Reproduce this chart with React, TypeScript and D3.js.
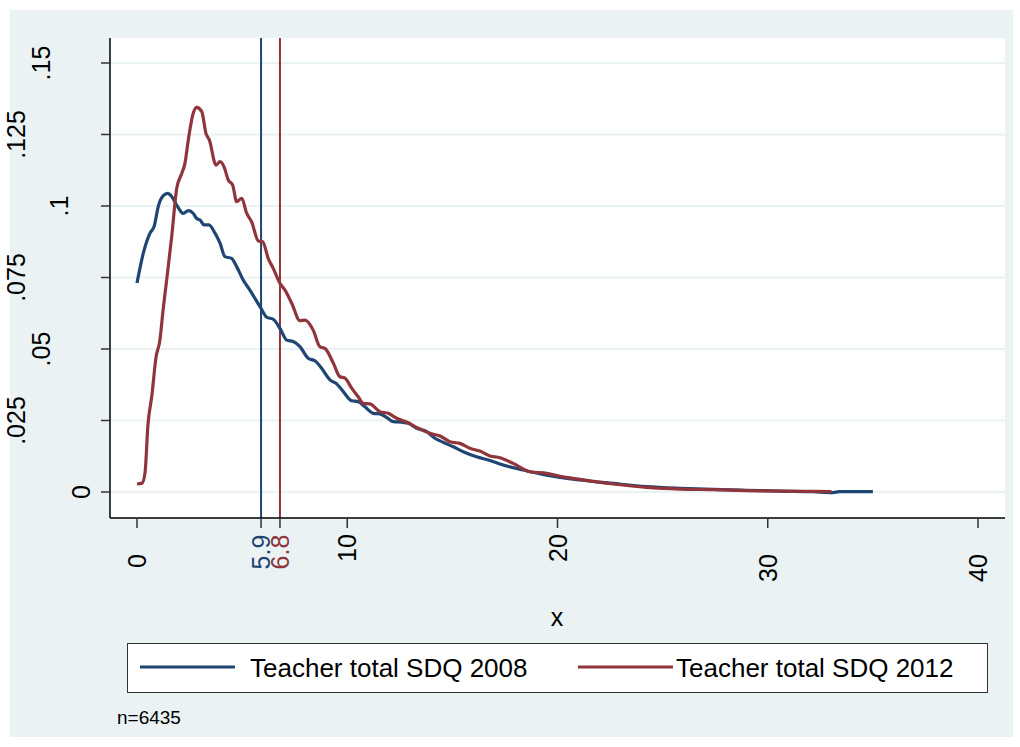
import React from "react";
import * as d3 from "d3";

// Kernel density estimates of teacher-rated total SDQ scores
const xs2008 = [0, 0.3, 0.62, 0.82, 1.01, 1.25, 1.46, 1.65, 1.89, 2.2, 2.44, 2.68, 2.84, 3.0, 3.19, 3.42, 3.71, 3.95, 4.18, 4.5, 4.74, 5.05, 5.37, 5.85, 6.17, 6.48, 6.8, 7.12, 7.43, 7.75, 8.15, 8.46, 8.78, 9.18, 9.5, 9.81, 10.21, 10.52, 10.84, 11.24, 11.55, 11.87, 12.19, 12.59, 12.9, 13.3, 13.78, 14.17, 14.56, 15.04, 15.52, 16.15, 16.79, 17.26, 18.37, 19.48, 21.07, 22.65, 24.24, 25.82, 27.4, 28.99, 30.58, 32.16, 33.1, 33.4, 35.0];
const dens2008 = [0.0731, 0.0835, 0.0905, 0.093, 0.0998, 0.1036, 0.1044, 0.1033, 0.1003, 0.0974, 0.0984, 0.0974, 0.0956, 0.0951, 0.0934, 0.0934, 0.0905, 0.087, 0.0823, 0.0817, 0.0788, 0.0741, 0.0706, 0.0648, 0.0611, 0.0604, 0.0572, 0.0531, 0.0526, 0.0508, 0.0467, 0.0459, 0.0433, 0.0392, 0.0378, 0.0351, 0.0319, 0.0316, 0.0298, 0.0275, 0.0273, 0.0261, 0.0246, 0.0244, 0.024, 0.0223, 0.0211, 0.0188, 0.0174, 0.0158, 0.0141, 0.0123, 0.011, 0.0098, 0.0077, 0.0059, 0.0042, 0.003, 0.0019, 0.0013, 0.0009, 0.0006, 0.0003, 0.0001, -0.0002, 0.0001, 0.0001];

const xs2012 = [0, 0.24, 0.38, 0.52, 0.71, 0.9, 1.09, 1.24, 1.41, 1.65, 1.89, 2.13, 2.28, 2.44, 2.65, 2.84, 3.08, 3.28, 3.44, 3.76, 3.95, 4.14, 4.34, 4.55, 4.74, 4.98, 5.22, 5.45, 5.77, 5.98, 6.24, 6.48, 6.8, 7.04, 7.36, 7.75, 7.99, 8.38, 8.7, 8.94, 9.34, 9.65, 9.89, 10.21, 10.52, 10.76, 11.08, 11.55, 11.95, 12.35, 12.9, 13.3, 13.93, 14.41, 14.88, 15.36, 15.83, 16.31, 16.79, 17.26, 17.89, 18.69, 19.48, 20.27, 21.07, 22.65, 24.24, 25.82, 27.4, 28.99, 30.58, 32.16, 33.03];
const dens2012 = [0.0028, 0.0031, 0.0066, 0.0234, 0.0339, 0.0469, 0.0531, 0.0636, 0.0741, 0.0893, 0.1062, 0.1114, 0.1149, 0.1231, 0.1318, 0.1345, 0.133, 0.1254, 0.1231, 0.1143, 0.1155, 0.1137, 0.1091, 0.1073, 0.1015, 0.1027, 0.0974, 0.0945, 0.0878, 0.0875, 0.0817, 0.0782, 0.073, 0.0706, 0.066, 0.0599, 0.0601, 0.0566, 0.0508, 0.0502, 0.045, 0.0403, 0.0398, 0.0363, 0.0333, 0.031, 0.0308, 0.0281, 0.0275, 0.0258, 0.0242, 0.0226, 0.0205, 0.0196, 0.0176, 0.017, 0.0153, 0.0143, 0.0126, 0.012, 0.01, 0.0071, 0.0065, 0.0053, 0.0044, 0.0028, 0.0016, 0.001, 0.0008, 0.0005, 0.0003, 0.0002, 0.0001];

const seriesNames = ["Teacher total SDQ 2008", "Teacher total SDQ 2012"];
const seriesMeans = [5.9, 6.8];
const xTicks = [0, 10, 20, 30, 40];
const yTicks = [0, 0.025, 0.05, 0.075, 0.1, 0.125, 0.15];
const yTickLabels = ["0", ".025", ".05", ".075", ".1", ".125", ".15"];
const sampleNote = "n=6435";

const NAVY = "#1f4673";
const MAROON = "#90353b";
const BG = "#eaf2f3";
const FONT = "'Liberation Sans', Arial, Helvetica, sans-serif";

// Plot region frame
const PL = 110, PR = 1005, PT = 38, PB = 518;

// Vertical label centres for the rotated x tick labels
const xLabelCenter: Record<string, number> = { "0": 561, "10": 548, "20": 548, "30": 568, "40": 568 };
const meanLabelCenter = 552;
// Horizontal label centres for the rotated y tick labels, by label length
const yLabelCenterByLen = [0, 81, 59, 41, 16];

export default function App() {
  const x = d3.scaleLinear().domain([0, 40]).range([137, 978]);
  const y = d3.scaleLinear().domain([0, 0.15]).range([492, 63]);

  const line = d3
    .line<[number, number]>()
    .x((d) => x(d[0]))
    .y((d) => y(d[1]))
    .curve(d3.curveMonotoneX);

  const pts2008 = xs2008.map((v, i) => [v, dens2008[i]] as [number, number]);
  const pts2012 = xs2012.map((v, i) => [v, dens2012[i]] as [number, number]);
  const colors = [NAVY, MAROON];

  const tickFont = 25;
  const legendFont = 26;

  return (
    <svg width={1020} height={747} style={{ display: "block", position: "absolute", left: 0, top: 0 }} fontFamily={FONT}>
      <rect x={0} y={0} width={1020} height={747} fill="#ffffff" />
      <rect x={10} y={10} width={1003} height={727} fill={BG} />
      <rect x={PL} y={PT} width={PR - PL} height={PB - PT} fill="#ffffff" />

      {/* gridlines */}
      {yTicks.map((t) => (
        <line key={"g" + t} x1={PL} x2={PR} y1={y(t)} y2={y(t)} stroke={BG} strokeWidth={2} />
      ))}

      {/* mean reference lines */}
      {seriesMeans.map((m, i) => (
        <line key={"m" + i} x1={x(m)} x2={x(m)} y1={PT} y2={PB} stroke={colors[i]} strokeWidth={2} />
      ))}

      {/* density curves */}
      <path d={line(pts2008) || ""} fill="none" stroke={NAVY} strokeWidth={3.2} strokeLinejoin="round" />
      <path d={line(pts2012) || ""} fill="none" stroke={MAROON} strokeWidth={3.2} strokeLinejoin="round" />

      {/* axes */}
      <line x1={PL} x2={PL} y1={PT} y2={PB} stroke="#000" strokeWidth={1.5} />
      <line x1={PL} x2={PR} y1={PB} y2={PB} stroke="#000" strokeWidth={1.5} />

      {yTicks.map((t, i) => {
        const lab = yTickLabels[i];
        const cx = yLabelCenterByLen[lab.length];
        return (
          <g key={"yt" + t}>
            <line x1={PL - 9} x2={PL} y1={y(t)} y2={y(t)} stroke="#333" strokeWidth={1.5} />
            <text
              transform={`translate(${cx},${y(t)}) rotate(-90)`}
              textAnchor="middle"
              dominantBaseline="central"
              fontSize={tickFont}
              fill="#000"
            >
              {lab}
            </text>
          </g>
        );
      })}

      {xTicks.map((t) => {
        const lab = String(t);
        return (
          <g key={"xt" + t}>
            <line x1={x(t)} x2={x(t)} y1={PB} y2={PB + 10} stroke="#333" strokeWidth={1.5} />
            <text
              transform={`translate(${x(t)},${xLabelCenter[lab]}) rotate(-90)`}
              textAnchor="middle"
              dominantBaseline="central"
              fontSize={tickFont}
              fill="#000"
            >
              {lab}
            </text>
          </g>
        );
      })}

      {seriesMeans.map((m, i) => (
        <g key={"mt" + i}>
          <line x1={x(m)} x2={x(m)} y1={PB} y2={PB + 10} stroke="#333" strokeWidth={1.5} />
          <text
            transform={`translate(${x(m)},${meanLabelCenter}) rotate(-90)`}
            textAnchor="middle"
            dominantBaseline="central"
            fontSize={tickFont}
            fill={colors[i]}
          >
            {m.toFixed(1)}
          </text>
        </g>
      ))}

      {/* axis title */}
      <text x={557} y={617} textAnchor="middle" dominantBaseline="central" fontSize={tickFont} fill="#000">
        x
      </text>

      {/* legend */}
      <rect x={127.5} y={643.5} width={860} height={49} fill="#ffffff" stroke="#333" strokeWidth={1} />
      {seriesNames.map((name, i) => {
        const lx = i === 0 ? 140 : 578;
        return (
          <g key={"lg" + i}>
            <line x1={lx} x2={lx + 95} y1={667} y2={667} stroke={colors[i]} strokeWidth={3.2} />
            <text x={i === 0 ? 250 : 676} y={668} dominantBaseline="central" fontSize={legendFont} fill="#000">
              {name}
            </text>
          </g>
        );
      })}

      <text x={117} y={717} dominantBaseline="central" fontSize={19} fill="#000">
        {sampleNote}
      </text>
    </svg>
  );
}
